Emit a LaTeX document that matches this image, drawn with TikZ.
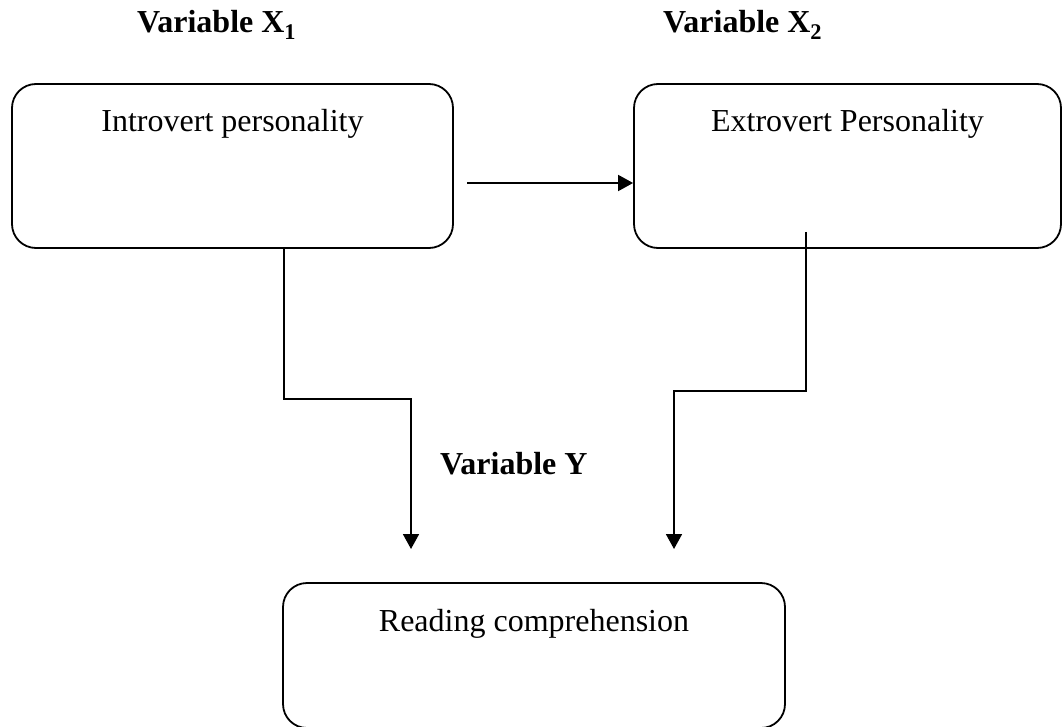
\documentclass[tikz,border=0pt]{standalone}
\usepackage{fontspec}
\setmainfont{Liberation Serif}
\usetikzlibrary{arrows.meta}
\tikzset{
  box/.style={draw, line width=1.8pt, rounded corners=24pt, inner sep=0pt},
  boxtext/.style={anchor=base, inner sep=0pt, font=\fontsize{32}{38}\selectfont},
  vartext/.style={anchor=base west, inner sep=0pt, font=\fontsize{32}{38}\selectfont\bfseries},
  arr/.style={line width=1.8pt, -{Triangle[length=15pt,width=16pt]}}
}
\begin{document}
\begin{tikzpicture}[x=1pt,y=-1pt]
\useasboundingbox (0,0) rectangle (1062,727);
% boxes
\node[box, minimum width=441pt, minimum height=164pt] (intro) at (232.5,166) {};
\node[box, minimum width=427pt, minimum height=164pt] (extro) at (847.5,166) {};
\node[box, minimum width=502pt, minimum height=145pt] (read) at (534,655.5) {};
% box texts
\node[boxtext] (introtext) at (232.5,132) {Introvert personality};
\node[boxtext] (extrotext) at (847.5,132) {Extrovert Personality};
\node[boxtext] (readtext) at (534,631) {Reading comprehension};
% variable labels
\node[vartext] (vx1) at (137,33) {Variable X\textsubscript{1}};
\node[vartext] (vx2) at (663,33) {Variable X\textsubscript{2}};
\node[vartext] (vy) at (440,474) {Variable Y};
% connector coordinates
\coordinate (hstart) at (467,183);
\coordinate (lstart) at (284,248);
\coordinate (lend) at (411,549);
\coordinate (rstart) at (806,232);
\coordinate (rend) at (674,549);
% connectors
\draw[arr] (hstart) -- (extro.west |- hstart);
\draw[arr] (lstart) -- (284,399) -- (411,399) -- (lend);
\draw[arr] (rstart) -- (806,391) -- (674,391) -- (rend);
\end{tikzpicture}
\end{document}
